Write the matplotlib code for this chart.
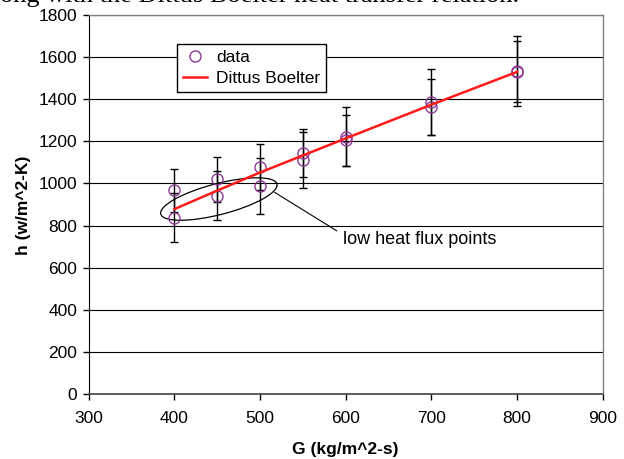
import matplotlib
matplotlib.use("Agg")
import matplotlib.pyplot as plt
from matplotlib.patches import Ellipse
from matplotlib.transforms import ScaledTranslation

plt.rcParams['font.family'] = ['Liberation Sans', 'DejaVu Sans']

# measured heat transfer coefficients (two runs per mass flux)
G = [400, 400, 450, 450, 500, 500, 550, 550, 600, 600, 700, 700, 800, 800]
h = [967, 837, 1019, 942, 1079, 988, 1143, 1111, 1222, 1206, 1388, 1364, 1534, 1531]
h_err = [101, 117, 106, 116, 108, 133, 114, 132, 139, 121, 156, 133, 167, 146]

# Dittus Boelter prediction
G_db = [400, 450, 500, 550, 600, 700, 800]
h_db = [878, 966, 1052, 1133, 1214, 1374, 1530]

fig = plt.figure(figsize=(6.24, 4.59), dpi=100)
ax = fig.add_axes([0.142, 0.1416, 0.824, 0.8257])

ax.errorbar(G, h, yerr=h_err, fmt='none', ecolor='black', elinewidth=1.0,
            capsize=3, capthick=1.0, zorder=3)
ax.plot(G, h, linestyle='none', marker='o', markersize=8, markerfacecolor='none',
        markeredgecolor='#8e3a96', markeredgewidth=1.0, label='data', zorder=4)
ax.plot(G_db, h_db, color='#ff1a1a', linewidth=1.8, label='Dittus Boelter', zorder=5)

ax.set_xlim(300, 900)
ax.set_ylim(0, 1800)
ax.set_xticks(range(300, 901, 100))
ax.set_yticks(range(0, 1801, 200))
ax.yaxis.grid(True, color='black', linewidth=0.8)
ax.set_axisbelow(True)

for side in ['top', 'right']:
    ax.spines[side].set_color('#808080')
    ax.spines[side].set_linewidth(1.0)
ax.spines['left'].set_color('black')
ax.spines['bottom'].set_color('#505050')
ax.spines['bottom'].set_linewidth(1.3)
ax.tick_params(axis='both', direction='out', length=4, width=1, labelsize=12.5,
               colors='black')
ax.tick_params(axis='x', pad=8)
ax.tick_params(axis='y', pad=4)

ax.set_xlabel('G (kg/m^2-s)', fontsize=12.5, fontweight='bold')
ax.set_ylabel('h (w/m^2-K)', fontsize=12.5, fontweight='bold')
ax.xaxis.set_label_coords(0.4986, -0.126)
ax.yaxis.set_label_coords(-0.112, 0.499)

leg = ax.legend(loc='upper left', bbox_to_anchor=(0.172, 0.923), borderaxespad=0,
                fontsize=12.5, fancybox=False, framealpha=1, edgecolor='black',
                handlelength=1.4, handletextpad=0.5, borderpad=0.35,
                labelspacing=0.3)
leg.get_frame().set_linewidth(1.0)

# outline around the low heat flux points
ring = Ellipse((0, 0), 1.20, 0.31, angle=14.5, fill=False, edgecolor='black',
               linewidth=0.9,
               transform=fig.dpi_scale_trans + ScaledTranslation(452, 926, ax.transData))
ax.add_patch(ring)
ax.annotate('low heat flux points', xy=(517, 958), xytext=(597, 736),
            fontsize=13, ha='left', va='center',
            arrowprops=dict(arrowstyle='-', color='black', linewidth=0.8,
                            relpos=(0, 0.75), shrinkA=3, shrinkB=0))

# caption line from the surrounding page, clipped at the top edge
fig.text(-0.031, 1 - 2 / 459, 'along with the Dittus Boelter heat transfer relation.',
         fontsize=19, family='Liberation Serif', ha='left', va='baseline')

fig.savefig('out.png', dpi=100)
